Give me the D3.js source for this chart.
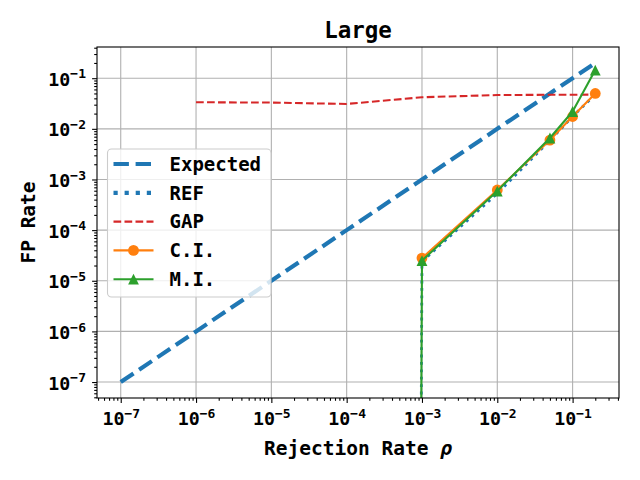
<!DOCTYPE html>
<html>
<head>
<meta charset="utf-8">
<script src="https://cdn.jsdelivr.net/npm/d3@7"></script>
<style>
  html, body { margin: 0; padding: 0; background: #fff; }
  svg { display: block; }
  text { font-family: "DejaVu Sans Mono", monospace; font-weight: bold; fill: #000; }
</style>
</head>
<body>
<svg id="chart" width="640" height="480"></svg>
<script>
// ---- data ----
const rho      = [1e-7, 1e-6, 1e-5, 1e-4, 1e-3, 1e-2, 0.05, 0.1, 0.2];
const expected = [1e-7, 1e-6, 1e-5, 1e-4, 1e-3, 1e-2, 0.05, 0.1, 0.2];
const refRate  = [0, 0, 0, 0, 2.4e-5, 5.3e-4, 5.9e-3, 1.75e-2, 4.8e-2];
const gapRate  = [null, 0.0335, 0.033, 0.031, 0.042, 0.0465, 0.047, 0.047, 0.0475];
const ciRate   = [null, null, null, null, 2.8e-5, 6.2e-4, 6.0e-3, 1.75e-2, 5.0e-2];
const miRate   = [0, 0, 0, 0, 2.5e-5, 5.9e-4, 6.6e-3, 2.2e-2, 0.145];
const xExponents = [-7, -6, -5, -4, -3, -2, -1];
const yExponents = [-7, -6, -5, -4, -3, -2, -1];
const seriesNames = ["Expected", "REF", "GAP", "C.I.", "M.I."];

const C = { blue: "#1f77b4", orange: "#ff7f0e", green: "#2ca02c", red: "#d62728" };

const svg = d3.select("#chart");
const L = 97, R = 619, T = 47, B = 398;

// axis limits: data range with 5% margins in log space (like matplotlib)
const lo = Math.log10(d3.min(expected)), hi = Math.log10(d3.max(expected));
const pad = 0.05 * (hi - lo);
const dom = [Math.pow(10, lo - pad), Math.pow(10, hi + pad)];
const x = d3.scaleLog().domain(dom).range([L, R]);
const y = d3.scaleLog().domain(dom).range([B, T]);

const majors = xExponents.map(e => Math.pow(10, e));
const ymajors = yExponents.map(e => Math.pow(10, e));
function minorsIn(d) {
  const out = [];
  for (let e = -9; e <= 1; e++) for (let m = 2; m <= 9; m++) {
    const v = m * Math.pow(10, e);
    if (v >= d[0] && v <= d[1]) out.push(v);
  }
  return out;
}
const xmin = minorsIn(dom), ymin = minorsIn(dom);

// grid
const grid = svg.append("g");
grid.selectAll(".gx").data(majors).join("line")
  .attr("x1", d => x(d)).attr("x2", d => x(d)).attr("y1", T).attr("y2", B)
  .attr("stroke", "#b0b0b0").attr("stroke-width", 1.1);
grid.selectAll(".gy").data(ymajors).join("line")
  .attr("y1", d => y(d)).attr("y2", d => y(d)).attr("x1", L).attr("x2", R)
  .attr("stroke", "#b0b0b0").attr("stroke-width", 1.1);

// clip
svg.append("clipPath").attr("id", "clip").append("rect")
  .attr("x", L).attr("y", T).attr("width", R - L).attr("height", B - T);
const plot = svg.append("g").attr("clip-path", "url(#clip)");

function pts(vals) {
  return rho.map((r, i) => ({ x: r, y: vals[i] }));
}
const line = d3.line()
  .defined(d => d.y !== null)
  .x(d => x(d.x))
  .y(d => y(Math.max(d.y, 1e-300)));

const series = [
  { vals: expected, color: C.blue, w: 4.17, dash: "15.4,6.7" },
  { vals: refRate,  color: C.blue, w: 2.8, dash: "2.8,4.6" },
  { vals: gapRate,  color: C.red,  w: 2.08, dash: "7.7,3.3" },
  { vals: ciRate,   color: C.orange, w: 2.08, dash: null, marker: "circle" },
  { vals: miRate,   color: C.green,  w: 2.08, dash: null, marker: "tri" }
];

const MS = 5.4;
const triPath = s => `M0,${-s}L${-s},${s}L${s},${s}Z`;

series.forEach(s => {
  plot.append("path").datum(pts(s.vals))
    .attr("d", line)
    .attr("fill", "none")
    .attr("stroke", s.color)
    .attr("stroke-width", s.w)
    .attr("stroke-dasharray", s.dash)
    .attr("stroke-linecap", "butt")
    .attr("stroke-linejoin", "round");
  if (s.marker) {
    const mp = pts(s.vals).filter(d => d.y !== null && d.y > 0);
    if (s.marker === "circle") {
      plot.selectAll(null).data(mp).join("circle")
        .attr("cx", d => x(d.x)).attr("cy", d => y(d.y)).attr("r", MS)
        .attr("fill", s.color);
    } else {
      plot.selectAll(null).data(mp).join("path")
        .attr("transform", d => `translate(${x(d.x)},${y(d.y)})`)
        .attr("d", triPath(MS))
        .attr("fill", s.color);
    }
  }
});

// axes ticks
const axB = svg.append("g").attr("transform", `translate(0,${B})`);
axB.call(d3.axisBottom(x).tickValues(majors).tickSize(4.9).tickFormat(""));
axB.append("g").call(d3.axisBottom(x).tickValues(xmin).tickSize(2.8).tickFormat(""));
const axL = svg.append("g").attr("transform", `translate(${L},0)`);
axL.call(d3.axisLeft(y).tickValues(ymajors).tickSize(4.9).tickFormat(""));
axL.append("g").call(d3.axisLeft(y).tickValues(ymin).tickSize(2.8).tickFormat(""));
svg.selectAll(".domain").remove();
svg.selectAll(".tick line").attr("stroke", "#000").attr("stroke-width", 1.1);

// spines
svg.append("rect").attr("x", L).attr("y", T).attr("width", R - L).attr("height", B - T)
  .attr("fill", "none").attr("stroke", "#000").attr("stroke-width", 1.1);

// tick labels
xExponents.forEach((e, i) => {
  const t = svg.append("text").attr("x", x(majors[i]) + 0.5).attr("y", B + 27)
    .attr("text-anchor", "middle").style("font-size", "18.3px");
  t.append("tspan").text("10");
  t.append("tspan").attr("dy", -7).style("font-size", "13px").text("\u2212" + Math.abs(e));
});
yExponents.forEach((e, i) => {
  const t = svg.append("text").attr("x", 86).attr("y", y(ymajors[i]) + 7.5)
    .attr("text-anchor", "end").style("font-size", "18.3px");
  t.append("tspan").text("10");
  t.append("tspan").attr("dy", -7.2).style("font-size", "13px").text("\u2212" + Math.abs(e));
});

// title & labels
svg.append("text").attr("x", (L + R) / 2).attr("y", 38.3).attr("text-anchor", "middle")
  .style("font-size", "22.5px").text("Large");
const xl = svg.append("text").attr("x", (L + R) / 2).attr("y", 455).attr("text-anchor", "middle")
  .style("font-size", "19.5px");
xl.append("tspan").text("Rejection Rate ");
xl.append("tspan").style("font-style", "italic").text("\u03C1");
svg.append("text").attr("transform", `translate(35,${(T + B) / 2}) rotate(-90)`)
  .attr("text-anchor", "middle").style("font-size", "19.5px").text("FP Rate");

// legend
const lg = svg.append("g");
lg.append("rect").attr("x", 107.5).attr("y", 149).attr("width", 163.5).attr("height", 148)
  .attr("rx", 4).attr("fill", "#fff").attr("fill-opacity", 0.8)
  .attr("stroke", "#cccccc").attr("stroke-width", 1.1);
const legDash = ["15.4,6.7", "4.2,6.9", "7.7,3.3", null, null];
const legW = [4.17, 4.17, 2.08, 2.08, 2.08];
seriesNames.forEach((name, i) => {
  const yy = 164 + i * 28.8;
  const s = series[i];
  lg.append("line").attr("x1", 113.5).attr("x2", 153.5).attr("y1", yy).attr("y2", yy)
    .attr("stroke", s.color).attr("stroke-width", legW[i]).attr("stroke-dasharray", legDash[i]);
  if (s.marker === "circle") {
    lg.append("circle").attr("cx", 133.5).attr("cy", yy).attr("r", MS).attr("fill", s.color);
  } else if (s.marker === "tri") {
    lg.append("path").attr("transform", `translate(133.5,${yy})`).attr("d", triPath(MS)).attr("fill", s.color);
  }
  lg.append("text").attr("x", 169.5).attr("y", yy).attr("dy", "0.36em")
    .style("font-size", "19px").text(name);
});
</script>
</body>
</html>
